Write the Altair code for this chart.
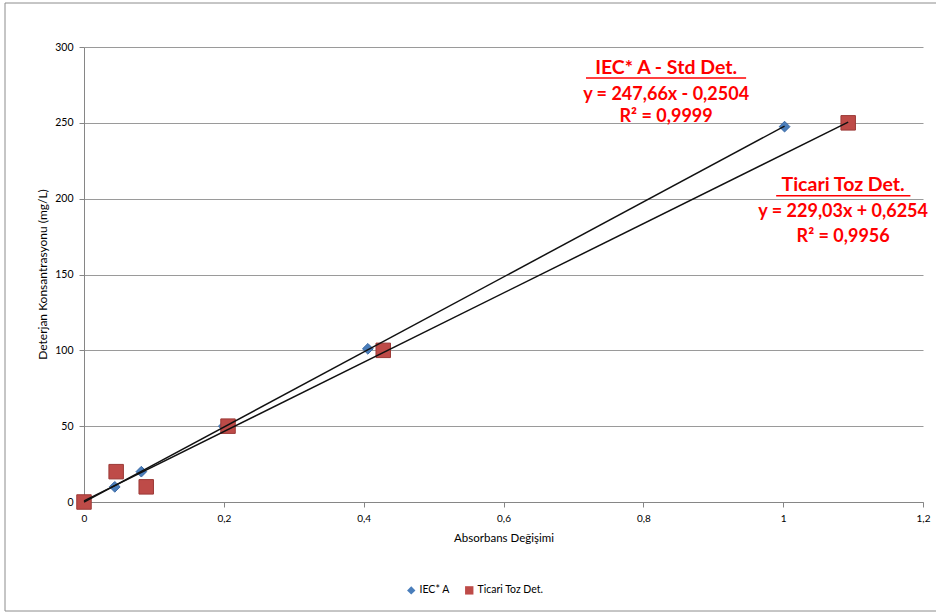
import altair as alt
import pandas as pd

# --- data ---
iec_x = [0.0, 0.044, 0.082, 0.200, 0.406, 1.002]
iec_y = [0, 10, 20, 50, 101, 247.5]
tic_x = [0.0, 0.046, 0.089, 0.206, 0.428, 1.093]
tic_y = [0, 20, 10, 50, 100, 250]
series_names = ["IEC* A", "Ticari Toz Det."]

x_ticks = [0, 0.2, 0.4, 0.6, 0.8, 1.0, 1.2]
y_ticks = [0, 50, 100, 150, 200, 250, 300]

ann_text = ["IEC* A - Std Det.", "y = 247,66x - 0,2504", "R² = 0,9999",
            "Ticari Toz Det.", "y = 229,03x + 0,6254", "R² = 0,9956"]
ann_x = [0.8326, 0.8326, 0.8326, 1.0858, 1.0858, 1.0858]
ann_y = [286.1, 268.3, 253.8, 209.0, 191.2, 174.7]
ann_size = [19.5, 18, 18, 19.5, 18, 18]

ul_x = [0.718, 0.990]
ul_x2 = [0.947, 1.182]
ul_y = [279.6, 202.0]

FONT = "Lato"

pts = pd.DataFrame({
    "x": iec_x + tic_x,
    "y": iec_y + tic_y,
    "series": [series_names[0]] * len(iec_x) + [series_names[1]] * len(tic_x),
})
ann = pd.DataFrame({"x": ann_x, "y": ann_y, "text": ann_text, "fs": ann_size})
ul = pd.DataFrame({"x": ul_x, "x2": ul_x2, "y": ul_y})

xscale = alt.Scale(domain=[0, 1.2], nice=False, zero=False)
yscale = alt.Scale(domain=[0, 300], nice=False)

xaxis = alt.Axis(values=x_ticks, title="Absorbans Değişimi", grid=False,
                 labelExpr="replace(format(datum.value, '.1~f'), '.', ',')",
                 labelFlush=False,
                 domainColor="#868686", tickColor="#868686", tickSize=5,
                 labelFont=FONT, labelFontSize=10, labelColor="#000000",
                 labelPadding=6,
                 titleFont=FONT, titleFontSize=11.5, titleFontWeight="normal",
                 titleColor="#000000", titleY=36, titleBaseline="middle")
yaxis = alt.Axis(values=y_ticks, title="Deterjan Konsantrasyonu (mg/L)",
                 grid=True, gridColor="#9a9a9a", gridWidth=1, labelFlush=False,
                 domainColor="#868686", tickColor="#868686", tickSize=5,
                 labelFont=FONT, labelFontSize=10.5, labelColor="#000000",
                 labelPadding=6,
                 titleFont=FONT, titleFontSize=12, titleFontWeight="normal",
                 titleColor="#000000", titleX=-42, titleY=227,
                 titleBaseline="middle", titleAngle=270)

color_enc = alt.Color(
    "series:N", sort=series_names,
    scale=alt.Scale(domain=series_names, range=["#4a7ebb", "#be4b48"]),
    legend=alt.Legend(title=None, orient="none", legendX=322, legendY=538,
                      direction="horizontal", labelFont=FONT,
                      labelFontSize=10.5, labelColor="#000000",
                      columnPadding=14, symbolStrokeWidth=0, symbolSize=70,
                      labelOffset=3))
shape_enc = alt.Shape(
    "series:N", sort=series_names,
    scale=alt.Scale(domain=series_names, range=["diamond", "square"]),
    legend=alt.Legend(title=None, orient="none", legendX=322, legendY=538,
                      direction="horizontal", symbolSize=70))
stroke_enc = alt.Stroke(
    "series:N", scale=alt.Scale(domain=series_names, range=["#3b6aa5", "#9c3a37"]),
    legend=None)

border = alt.Chart(pd.DataFrame({"a": [0]})).mark_rect(
    fillOpacity=0, stroke="#8c8c8c", strokeWidth=1
).encode(x=alt.value(-79), x2=alt.value(860), y=alt.value(-44), y2=alt.value(564))

base = alt.Chart(pts)

blue_pts = base.transform_filter(
    alt.datum.series == series_names[0]
).mark_point(filled=True, opacity=1, strokeWidth=1, size=115).encode(
    x=alt.X("x:Q", scale=xscale, axis=xaxis),
    y=alt.Y("y:Q", scale=yscale, axis=yaxis),
    color=color_enc, shape=shape_enc, stroke=stroke_enc,
)

red_pts = base.transform_filter(
    alt.datum.series == series_names[1]
).mark_point(filled=True, opacity=1, strokeWidth=1, size=210).encode(
    x=alt.X("x:Q", scale=xscale),
    y=alt.Y("y:Q", scale=yscale),
    color=color_enc, shape=shape_enc, stroke=stroke_enc,
)

trend = base.transform_regression(
    "x", "y", groupby=["series"], method="linear"
).mark_line(color="#111111", strokeWidth=1.5).encode(
    x=alt.X("x:Q", scale=xscale),
    y=alt.Y("y:Q", scale=yscale),
    detail="series:N",
)

labels = alt.Chart(ann).mark_text(
    font=FONT, fontWeight="bold", color="#ff0000",
    align="center", baseline="middle"
).encode(x=alt.X("x:Q", scale=xscale), y=alt.Y("y:Q", scale=yscale),
         text="text:N", size=alt.Size("fs:Q", scale=None, legend=None))

underline = alt.Chart(ul).mark_rule(color="#ff0000", strokeWidth=1.5).encode(
    x=alt.X("x:Q", scale=xscale), x2="x2:Q", y=alt.Y("y:Q", scale=yscale)
)

chart = alt.layer(border, blue_pts, red_pts, trend, labels, underline).properties(
    width=839, height=455,
    autosize=alt.AutoSizeParams(type="none"),
    padding={"left": 84, "top": 47, "right": 13, "bottom": 112},
    background="white",
).configure_view(stroke=None)

chart.save("out.html", embed_options={"renderer": "svg", "actions": False})
